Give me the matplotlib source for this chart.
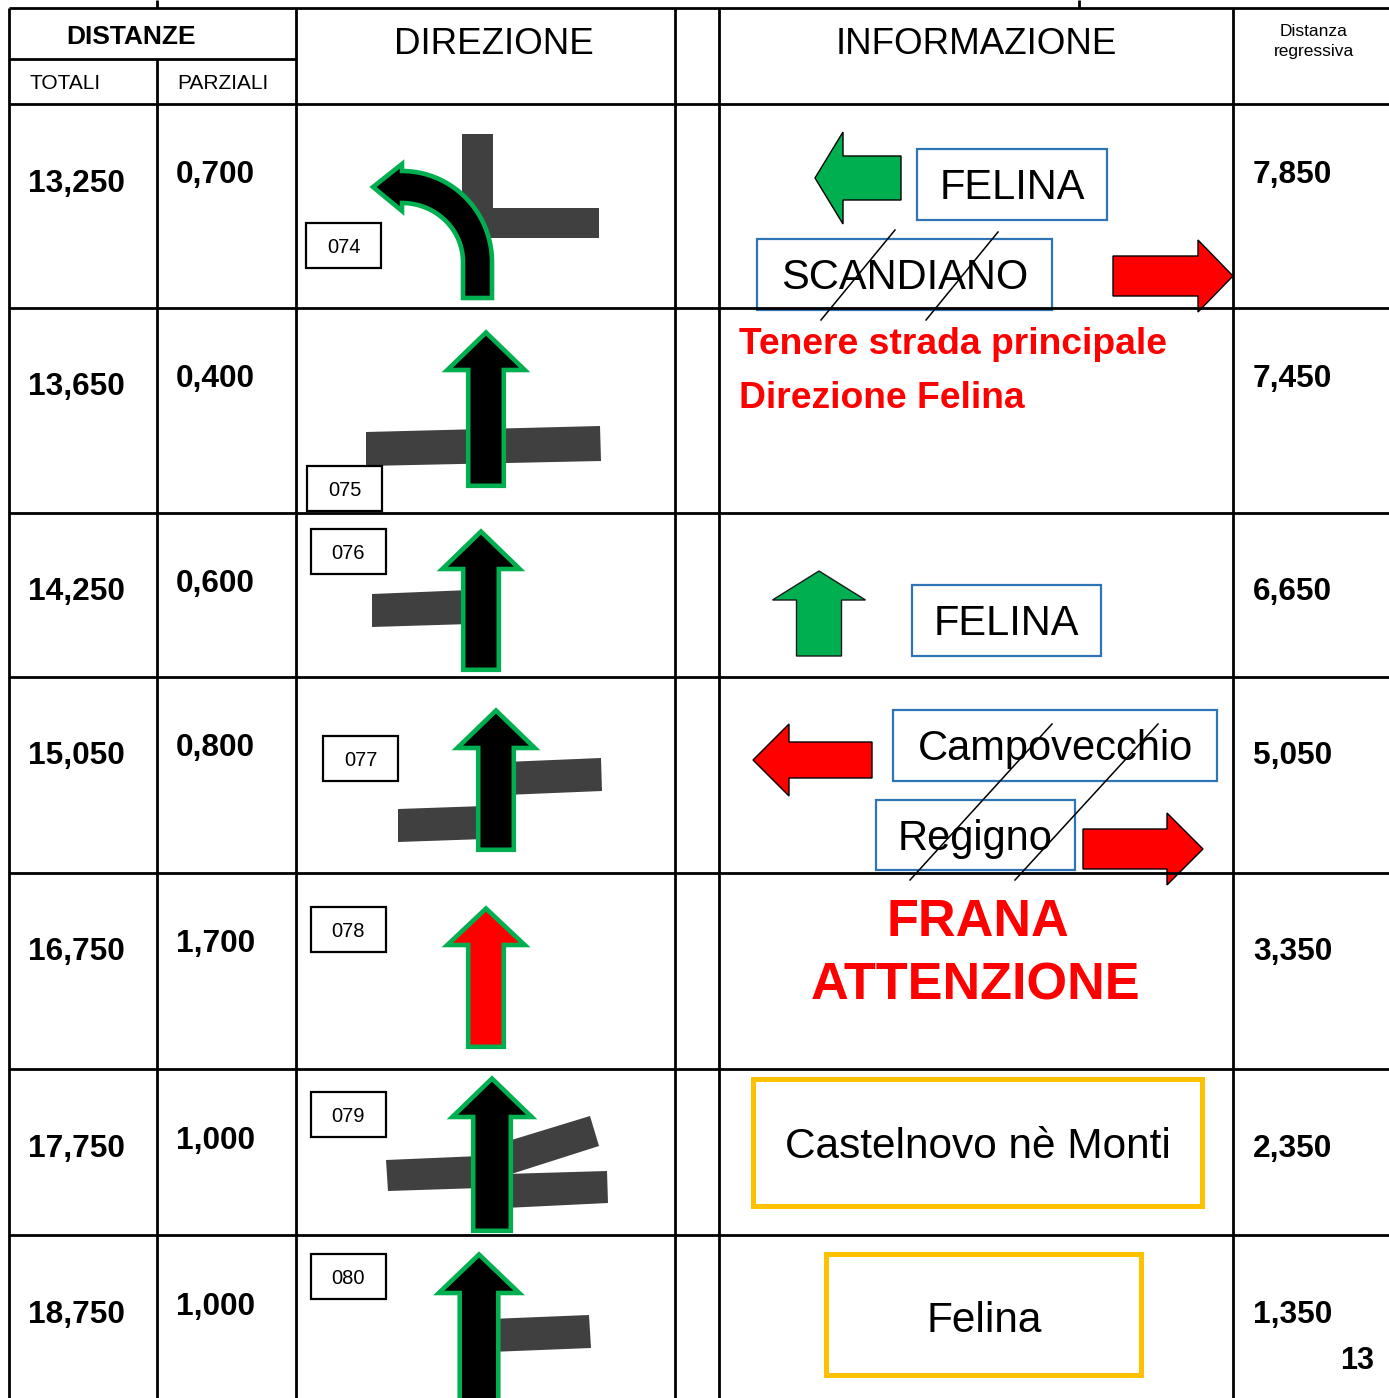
import matplotlib.pyplot as plt
from matplotlib.patches import Polygon, Rectangle
import numpy as np

plt.rcParams['font.family'] = ['Liberation Sans', 'DejaVu Sans']

# dati della tabella
totali = ['13,250', '13,650', '14,250', '15,050', '16,750', '17,750', '18,750']
parziali = ['0,700', '0,400', '0,600', '0,800', '1,700', '1,000', '1,000']
regressiva = ['7,850', '7,450', '6,650', '5,050', '3,350', '2,350', '1,350']
codici = ['074', '075', '076', '077', '078', '079', '080']
pagina = '13'

# geometria della griglia (pixel)
righe = [104, 308, 513, 677, 873, 1069, 1235, 1398]
y_tot = [181, 384, 589, 753, 949, 1146, 1312]
y_par = [172, 376, 581, 745, 941, 1138, 1304]
y_reg = [172, 376, 589, 753, 949, 1146, 1312]
box_cod = [(306, 223), (307, 466), (311, 529), (323, 736), (311, 907), (311, 1092), (311, 1254)]

VERDE = '#00B050'
ROSSO = '#FF0000'
GRIGIO = '#404040'
BLU = '#2E75B6'
ARANCIO = '#FFC000'

fig = plt.figure(figsize=(13.89, 13.98), dpi=100)
ax = fig.add_axes([0, 0, 1, 1])
ax.set_xlim(0, 1389)
ax.set_ylim(1398, 0)
ax.axis('off')


def txt(x, y, s, size, ha='center', **kw):
    # y = centro delle maiuscole
    ax.text(x, y + 0.358 * size * 100 / 72, s, fontsize=size, ha=ha, va='baseline', zorder=4, **kw)


def linea(x0, y0, x1, y1, lw=2.0, c='black'):
    ax.plot([x0, x1], [y0, y1], color=c, lw=lw, solid_capstyle='butt', zorder=5)


def freccia_su(cx, apex, hy, hw, sw, bottom, face, edge=VERDE, lw=3.3, d=2.2):
    pts = [(cx - sw / 2 + d, bottom - d), (cx - sw / 2 + d, hy), (cx - hw / 2 + d * 1.5, hy),
           (cx, apex + d * 1.6), (cx + hw / 2 - d * 1.5, hy), (cx + sw / 2 - d, hy),
           (cx + sw / 2 - d, bottom - d)]
    ax.add_patch(Polygon(pts, closed=True, fc=face, ec=edge, lw=lw, joinstyle='miter', zorder=3))


def freccia_oriz(tip, cy, hx, hh, sh, tail, face, edge='black', lw=1.0):
    pts = [(tail, cy - sh), (hx, cy - sh), (hx, cy - hh), (tip, cy),
           (hx, cy + hh), (hx, cy + sh), (tail, cy + sh)]
    ax.add_patch(Polygon(pts, closed=True, fc=face, ec=edge, lw=lw, joinstyle='miter', zorder=3))


def strada(pts):
    ax.add_patch(Polygon(pts, closed=True, fc=GRIGIO, ec='none', zorder=2))


def cartello(x0, y0, x1, y1, testo, ec=BLU, lw=1.6, size=30):
    ax.add_patch(Rectangle((x0, y0), x1 - x0, y1 - y0, fc='white', ec=ec, lw=lw, zorder=3))
    txt((x0 + x1) / 2, (y0 + y1) / 2, testo, size)


# griglia
linea(9, 8, 1389, 8)
linea(157, 0, 157, 8)
linea(1079, 0, 1079, 8)
linea(9, 59, 296, 59)
for y in righe[:-1]:
    linea(9, y, 1389, y)
linea(9, 8, 9, 1398)
linea(157, 59, 157, 1398)
for x in [296, 675, 719, 1233]:
    linea(x, 8, x, 1398)

# intestazione
txt(131, 35, 'DISTANZE', 19, fontweight='bold')
txt(65, 82, 'TOTALI', 15)
txt(223, 82, 'PARZIALI', 15)
txt(494, 41, 'DIREZIONE', 26.5)
txt(976, 41, 'INFORMAZIONE', 26.5)
txt(1314, 30, 'Distanza', 12.5)
txt(1314, 50, 'regressiva', 12.5)

# distanze
for i in range(len(totali)):
    txt(28, y_tot[i], totali[i], 22.8, ha='left', fontweight='bold')
    txt(176, y_par[i], parziali[i], 22.8, ha='left', fontweight='bold')
    txt(1253, y_reg[i], regressiva[i], 22.8, ha='left', fontweight='bold')
txt(1357, 1358, pagina, 22, fontweight='bold')

# codici dei punti
for (bx, by), c in zip(box_cod, codici):
    ax.add_patch(Rectangle((bx, by), 75, 45, fc='white', ec='black', lw=1.6, zorder=3))
    txt(bx + 37.5, by + 23, c, 14.5)

# riga 1: svolta a sinistra
strada([(462, 134), (493, 134), (493, 238), (462, 238)])
strada([(493, 208), (599, 208), (599, 238), (493, 238)])
cx, cy = 402, 262
t = np.linspace(0, np.pi / 2, 40)
inner = [(cx + 61 * np.cos(a), cy - 59 * np.sin(a)) for a in t]
outer = [(cx + 90 * np.cos(a), cy - 91 * np.sin(a)) for a in t[::-1]]
pts = [(463, 298)] + inner + [(cx, 211), (373, 187), (cx, 164)] + outer + [(492, 298)]
ax.add_patch(Polygon(pts, closed=True, fc='black', ec=VERDE, lw=3.3, joinstyle='miter', zorder=3))

# riga 2
strada([(366, 432), (600, 426), (601, 461), (366, 466)])
freccia_su(486, 329, 370, 84, 40, 488, 'black')
# riga 3
strada([(372, 594), (470, 590), (470, 624), (372, 627)])
freccia_su(481, 528, 569, 84, 40, 672, 'black')
# riga 4
strada([(398, 809), (485, 806), (485, 839), (398, 842)])
strada([(505, 762), (601, 758), (602, 791), (505, 795)])
freccia_su(496, 707, 748, 84, 40, 852, 'black')
# riga 5
freccia_su(486, 905, 945, 84, 40, 1049, ROSSO)
# riga 6
strada([(386, 1160), (480, 1156), (481, 1188), (388, 1191)])
strada([(505, 1142), (590, 1116), (599, 1146), (505, 1176)])
strada([(505, 1174), (607, 1171), (608, 1203), (505, 1208)])
freccia_su(492, 1075, 1117, 86, 42, 1233, 'black')
# riga 7
strada([(490, 1319), (589, 1315), (591, 1348), (490, 1352)])
freccia_su(479, 1251, 1293, 87, 43, 1410, 'black')

# informazioni riga 1
freccia_oriz(815, 178, 843, 46, 22, 901, VERDE)
cartello(917, 149, 1107, 220, 'FELINA')
cartello(757, 239, 1052, 310, 'SCANDIANO')
ax.plot([895, 821], [230, 320], color='black', lw=1.1, zorder=5)
ax.plot([998, 926], [232, 320], color='black', lw=1.1, zorder=5)
freccia_oriz(1233, 276, 1198, 36, 20, 1113, ROSSO)

# riga 2
txt(739, 341, 'Tenere strada principale', 26.8, ha='left', fontweight='bold', color=ROSSO)
txt(739, 395, 'Direzione Felina', 26.8, ha='left', fontweight='bold', color=ROSSO)

# riga 3
freccia_su(819, 571, 600, 93, 45, 656, VERDE, edge='#1a1a1a', lw=1.0, d=0)
cartello(912, 585, 1101, 656, 'FELINA')

# riga 4
freccia_oriz(753, 760, 789, 36, 18, 872, ROSSO)
cartello(893, 710, 1217, 781, 'Campovecchio')
cartello(876, 800, 1075, 870, 'Regigno')
ax.plot([1052, 910], [724, 880], color='black', lw=1.1, zorder=5)
ax.plot([1158, 1015], [724, 880], color='black', lw=1.1, zorder=5)
freccia_oriz(1203, 849, 1167, 36, 20, 1083, ROSSO)

# riga 5
txt(978, 917, 'FRANA', 37.6, fontweight='bold', color=ROSSO)
txt(976, 981, 'ATTENZIONE', 37.6, fontweight='bold', color=ROSSO)

# righe 6 e 7
ax.add_patch(Rectangle((753, 1079), 449, 127, fc='white', ec=ARANCIO, lw=3.6, zorder=3))
txt(978, 1143, 'Castelnovo nè Monti', 30.5)
ax.add_patch(Rectangle((826, 1254), 315, 121, fc='white', ec=ARANCIO, lw=3.6, zorder=3))
txt(984, 1317, 'Felina', 30.5)

fig.savefig('out.png', dpi=100, facecolor='white')
